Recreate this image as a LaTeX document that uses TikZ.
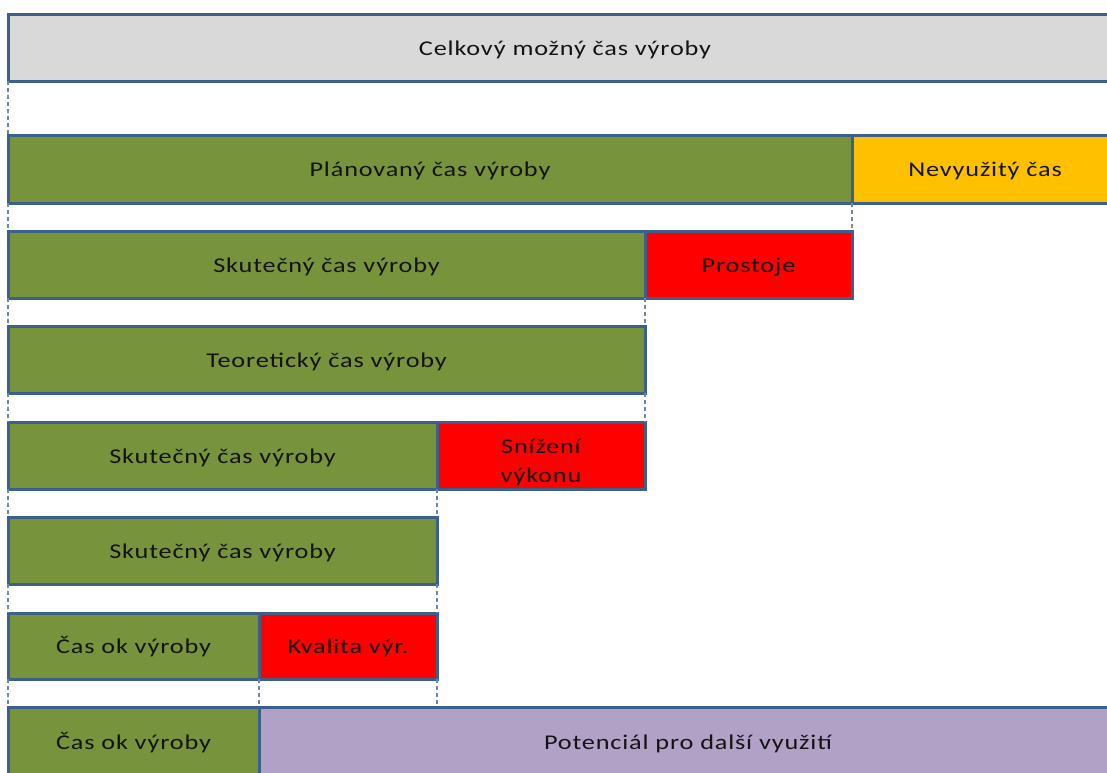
\documentclass[tikz,border=0pt]{standalone}
\usepackage{fontspec}
\setmainfont{Carlito}[FakeStretch=1.25,LetterSpace=4]
\definecolor{edge}{HTML}{3D5F8C}
\definecolor{cgray}{HTML}{D9D9D9}
\definecolor{cgreen}{HTML}{77933C}
\definecolor{cyellow}{HTML}{FFC000}
\definecolor{cred}{HTML}{FF0000}
\definecolor{cpurple}{HTML}{B2A1C7}
\definecolor{ctext}{HTML}{141414}
\begin{document}
\begin{tikzpicture}[x=1pt,y=-1pt,
  bar/.style={draw=edge,line width=3pt,rectangle,anchor=north west,outer sep=0pt,inner sep=0pt,
    text=ctext,font=\fontsize{21}{29}\selectfont,align=center,text height=19pt,text depth=3.4pt},
  guide/.style={draw=edge!75,line width=1.3pt,dash pattern=on 4pt off 3pt}]
\useasboundingbox (0,0) rectangle (1107,772);
\fill[white] (0,0) rectangle (1107,772);
\clip (0,0) rectangle (1107,772);
% row 1
\node[bar,fill=cgray,minimum width=1114pt,minimum height=67pt] (celk) at (8,14) {Celkový možný čas výroby};
% row 2
\node[bar,fill=cgreen,minimum width=844pt,minimum height=68pt] (plan) at (8,135) {Plánovaný čas výroby};
\node[bar,fill=cyellow,minimum width=266pt,minimum height=68pt] (nevy) at (852,135) {Nevyužitý čas};
% row 3
\node[bar,fill=cgreen,minimum width=637pt,minimum height=67pt] (skut1) at (8,231) {Skutečný čas výroby};
\node[bar,fill=cred,minimum width=207pt,minimum height=67pt] (prost) at (645,231) {Prostoje};
% row 4
\node[bar,fill=cgreen,minimum width=637pt,minimum height=67pt] (teor) at (8,326) {Teoretický čas výroby};
% row 5
\node[bar,fill=cgreen,minimum width=429pt,minimum height=67pt] (skut2) at (8,422) {Skutečný čas výroby};
\node[bar,fill=cred,minimum width=208pt,minimum height=67pt,text height=58pt,text depth=3.4pt] (sniz) at (437,422) {Snížení\\výkonu};
% row 6
\node[bar,fill=cgreen,minimum width=429pt,minimum height=67pt] (skut3) at (8,517) {Skutečný čas výroby};
% row 7
\node[bar,fill=cgreen,minimum width=251pt,minimum height=66pt] (ok1) at (8,613) {Čas ok výroby};
\node[bar,fill=cred,minimum width=178pt,minimum height=66pt] (kval) at (259,613) {Kvalita výr.};
% row 8
\node[bar,fill=cgreen,minimum width=251pt,minimum height=70pt] (ok2) at (8,707) {Čas ok výroby};
\node[bar,fill=cpurple,minimum width=858pt,minimum height=70pt] (pot) at (259,707) {Potenciál pro další využití};
% guides
\draw[guide] (celk.south west) -- (plan.north west);
\draw[guide] (plan.south west) -- (skut1.north west);
\draw[guide] (plan.south east) -- (prost.north east);
\draw[guide] (skut1.south west) -- (teor.north west);
\draw[guide] (skut1.south east) -- (teor.north east);
\draw[guide] (teor.south west) -- (skut2.north west);
\draw[guide] (teor.south east) -- (sniz.north east);
\draw[guide] (skut2.south west) -- (skut3.north west);
\draw[guide] (skut2.south east) -- (skut3.north east);
\draw[guide] (skut3.south west) -- (ok1.north west);
\draw[guide] (skut3.south east) -- (kval.north east);
\draw[guide] (ok1.south west) -- (ok2.north west);
\draw[guide] (ok1.south east) -- (ok2.north east);
\draw[guide] (kval.south east) -- (pot.north west -| kval.south east);
\end{tikzpicture}
\end{document}
